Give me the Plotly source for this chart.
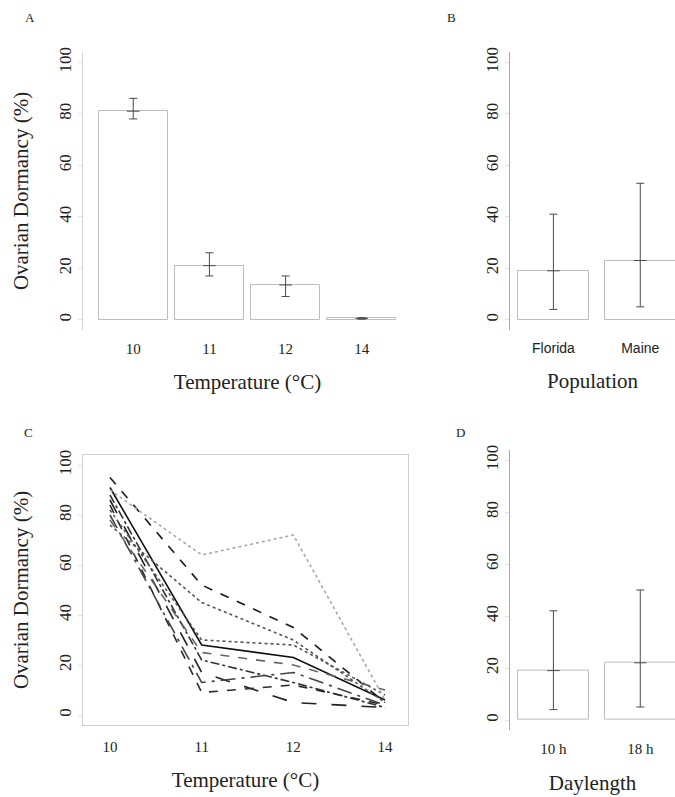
import plotly.graph_objects as go

# Panel A: dormancy by rearing temperature
temp_labels = ["10", "11", "12", "14"]
temp_mean = [81, 21, 13.5, 0.5]
temp_upper = [86, 26, 17, 0.8]
temp_lower = [78, 17, 9, 0.2]

# Panel B: dormancy by source population
pop_labels = ["Florida", "Maine"]
pop_mean = [19, 23]
pop_upper = [41, 53]
pop_lower = [4, 5]

# Panel C: dormancy reaction norms of individual lines across temperature
line_values = [
    [95, 52, 35, 5],
    [91, 28, 23, 6],
    [88, 22, 13, 3],
    [86, 17, 5, 3],
    [84, 9, 12, 4],
    [82, 30, 28, 8],
    [80, 13, 17, 4],
    [78, 25, 20, 10],
    [76, 45, 30, 5],
    [90, 64, 72, 6],
]

# Panel D: dormancy by daylength
day_labels = ["10 h", "18 h"]
day_mean = [19, 22]
day_upper = [42, 50]
day_lower = [4, 5]

y_ticks = [0, 20, 40, 60, 80, 100]

SERIF = "Liberation Serif, Times New Roman, serif"
SANS = "Liberation Sans, Arial, sans-serif"
BAR_EDGE = "#bdbdbd"
ERR = "#4a4a4a"

W, H = 675, 797


def px_x(a, b):
    return [a / W, b / W]


def px_y(top, bottom):
    return [1 - bottom / H, 1 - top / H]


fig = go.Figure()


def bar_panel(xa, ya, labels, mean, upper, lower, width):
    fig.add_trace(go.Bar(
        x=labels, y=mean, width=width, xaxis=xa, yaxis=ya,
        marker=dict(color="white", line=dict(color=BAR_EDGE, width=1)),
        showlegend=False, hoverinfo="skip",
    ))
    fig.add_trace(go.Scatter(
        x=labels, y=mean, xaxis=xa, yaxis=ya, mode="markers",
        marker=dict(symbol="line-ew-open", size=9, color=ERR,
                    line=dict(color=ERR, width=1)),
        error_y=dict(type="data", symmetric=False,
                     array=[u - m for u, m in zip(upper, mean)],
                     arrayminus=[m - l for m, l in zip(mean, lower)],
                     color=ERR, thickness=1, width=4),
        showlegend=False, hoverinfo="skip",
    ))


bar_panel("x", "y", temp_labels, temp_mean, temp_upper, temp_lower, 0.9)
bar_panel("x2", "y2", pop_labels, pop_mean, pop_upper, pop_lower, 0.82)
bar_panel("x4", "y4", day_labels, day_mean, day_upper, day_lower, 0.82)

dashes = ["dash", "solid", "dashdot", "longdash", "dash", "dot",
          "longdashdot", "dash", "dot", "dot"]
colors = ["#1a1a1a", "#111111", "#333333", "#222222", "#2a2a2a", "#555555",
          "#444444", "#666666", "#555555", "#a8a8a8"]
for vals, d, c in zip(line_values, dashes, colors):
    fig.add_trace(go.Scatter(
        x=temp_labels, y=vals, xaxis="x3", yaxis="y3", mode="lines",
        line=dict(color=c, width=1.6, dash=d),
        showlegend=False, hoverinfo="skip",
    ))

tick_font = dict(family=SERIF, size=17, color="#222")
title_font = dict(family=SERIF, size=21, color="#222")


def yaxis(domain, anchor, rng, linecolor, title=None, mirror=False):
    d = dict(domain=domain, anchor=anchor, range=rng, tickvals=y_ticks,
             tickangle=-90, tickfont=tick_font, showgrid=False, zeroline=False,
             showline=True, linecolor=linecolor, linewidth=1, mirror=mirror,
             ticks="outside", ticklen=4, tickcolor="#e2e2e2")
    if title:
        d["title"] = dict(text=title, font=title_font, standoff=21)
    return d


def xaxis(domain, anchor, rng, title, font, showline=False, mirror=False,
          linecolor="#cccccc"):
    return dict(domain=domain, anchor=anchor, type="category", range=rng,
                tickfont=font, showgrid=False, zeroline=False,
                showline=showline, mirror=mirror, linecolor=linecolor,
                ticks="", ticklabelstandoff=8,
                title=dict(text=title, font=title_font, standoff=18))


yA = px_y(52, 330)
yC = px_y(455, 725)
yD = px_y(449.6, 730.4)

fig.update_layout(
    width=W, height=H, template="none",
    margin=dict(l=0, r=0, t=0, b=0),
    paper_bgcolor="white", plot_bgcolor="white",
    bargap=0,
    xaxis=xaxis(px_x(83, 412), "y", [-0.66, 3.66], "Temperature (°C)",
                dict(family=SERIF, size=15, color="#222")),
    yaxis=yaxis(yA, "x", [-4, 104], "#d4d4d4", "Ovarian Dormancy (%)"),
    xaxis2=xaxis(px_x(510, 675), "y2", [-0.5, 1.4], "Population",
                 dict(family=SANS, size=14, color="#222")),
    yaxis2=yaxis(yA, "x2", [-4, 104], "#a8a8a8"),
    xaxis3=xaxis(px_x(83, 408), "y3", [-0.294, 3.25], "Temperature (°C)",
                 dict(family=SERIF, size=15, color="#222"),
                 showline=True, mirror=True, linecolor="#d0d0d0"),
    yaxis3=yaxis(yC, "x3", [-4, 104], "#d0d0d0", "Ovarian Dormancy (%)",
                 mirror=True),
    xaxis4=xaxis(px_x(510, 675), "y4", [-0.5, 1.4], "Daylength",
                 dict(family=SERIF, size=15, color="#222")),
    yaxis4=yaxis(yD, "x4", [-4, 104], "#a8a8a8"),
)

letter_font = dict(family=SERIF, size=13, color="#222")
for txt, x, y in [("A", 30, 18), ("B", 452, 18), ("C", 28, 432), ("D", 460, 432)]:
    fig.add_annotation(text=txt, x=x / W, y=1 - y / H, xref="paper", yref="paper",
                       showarrow=False, font=letter_font,
                       xanchor="center", yanchor="middle")

fig.write_html("out.html")
